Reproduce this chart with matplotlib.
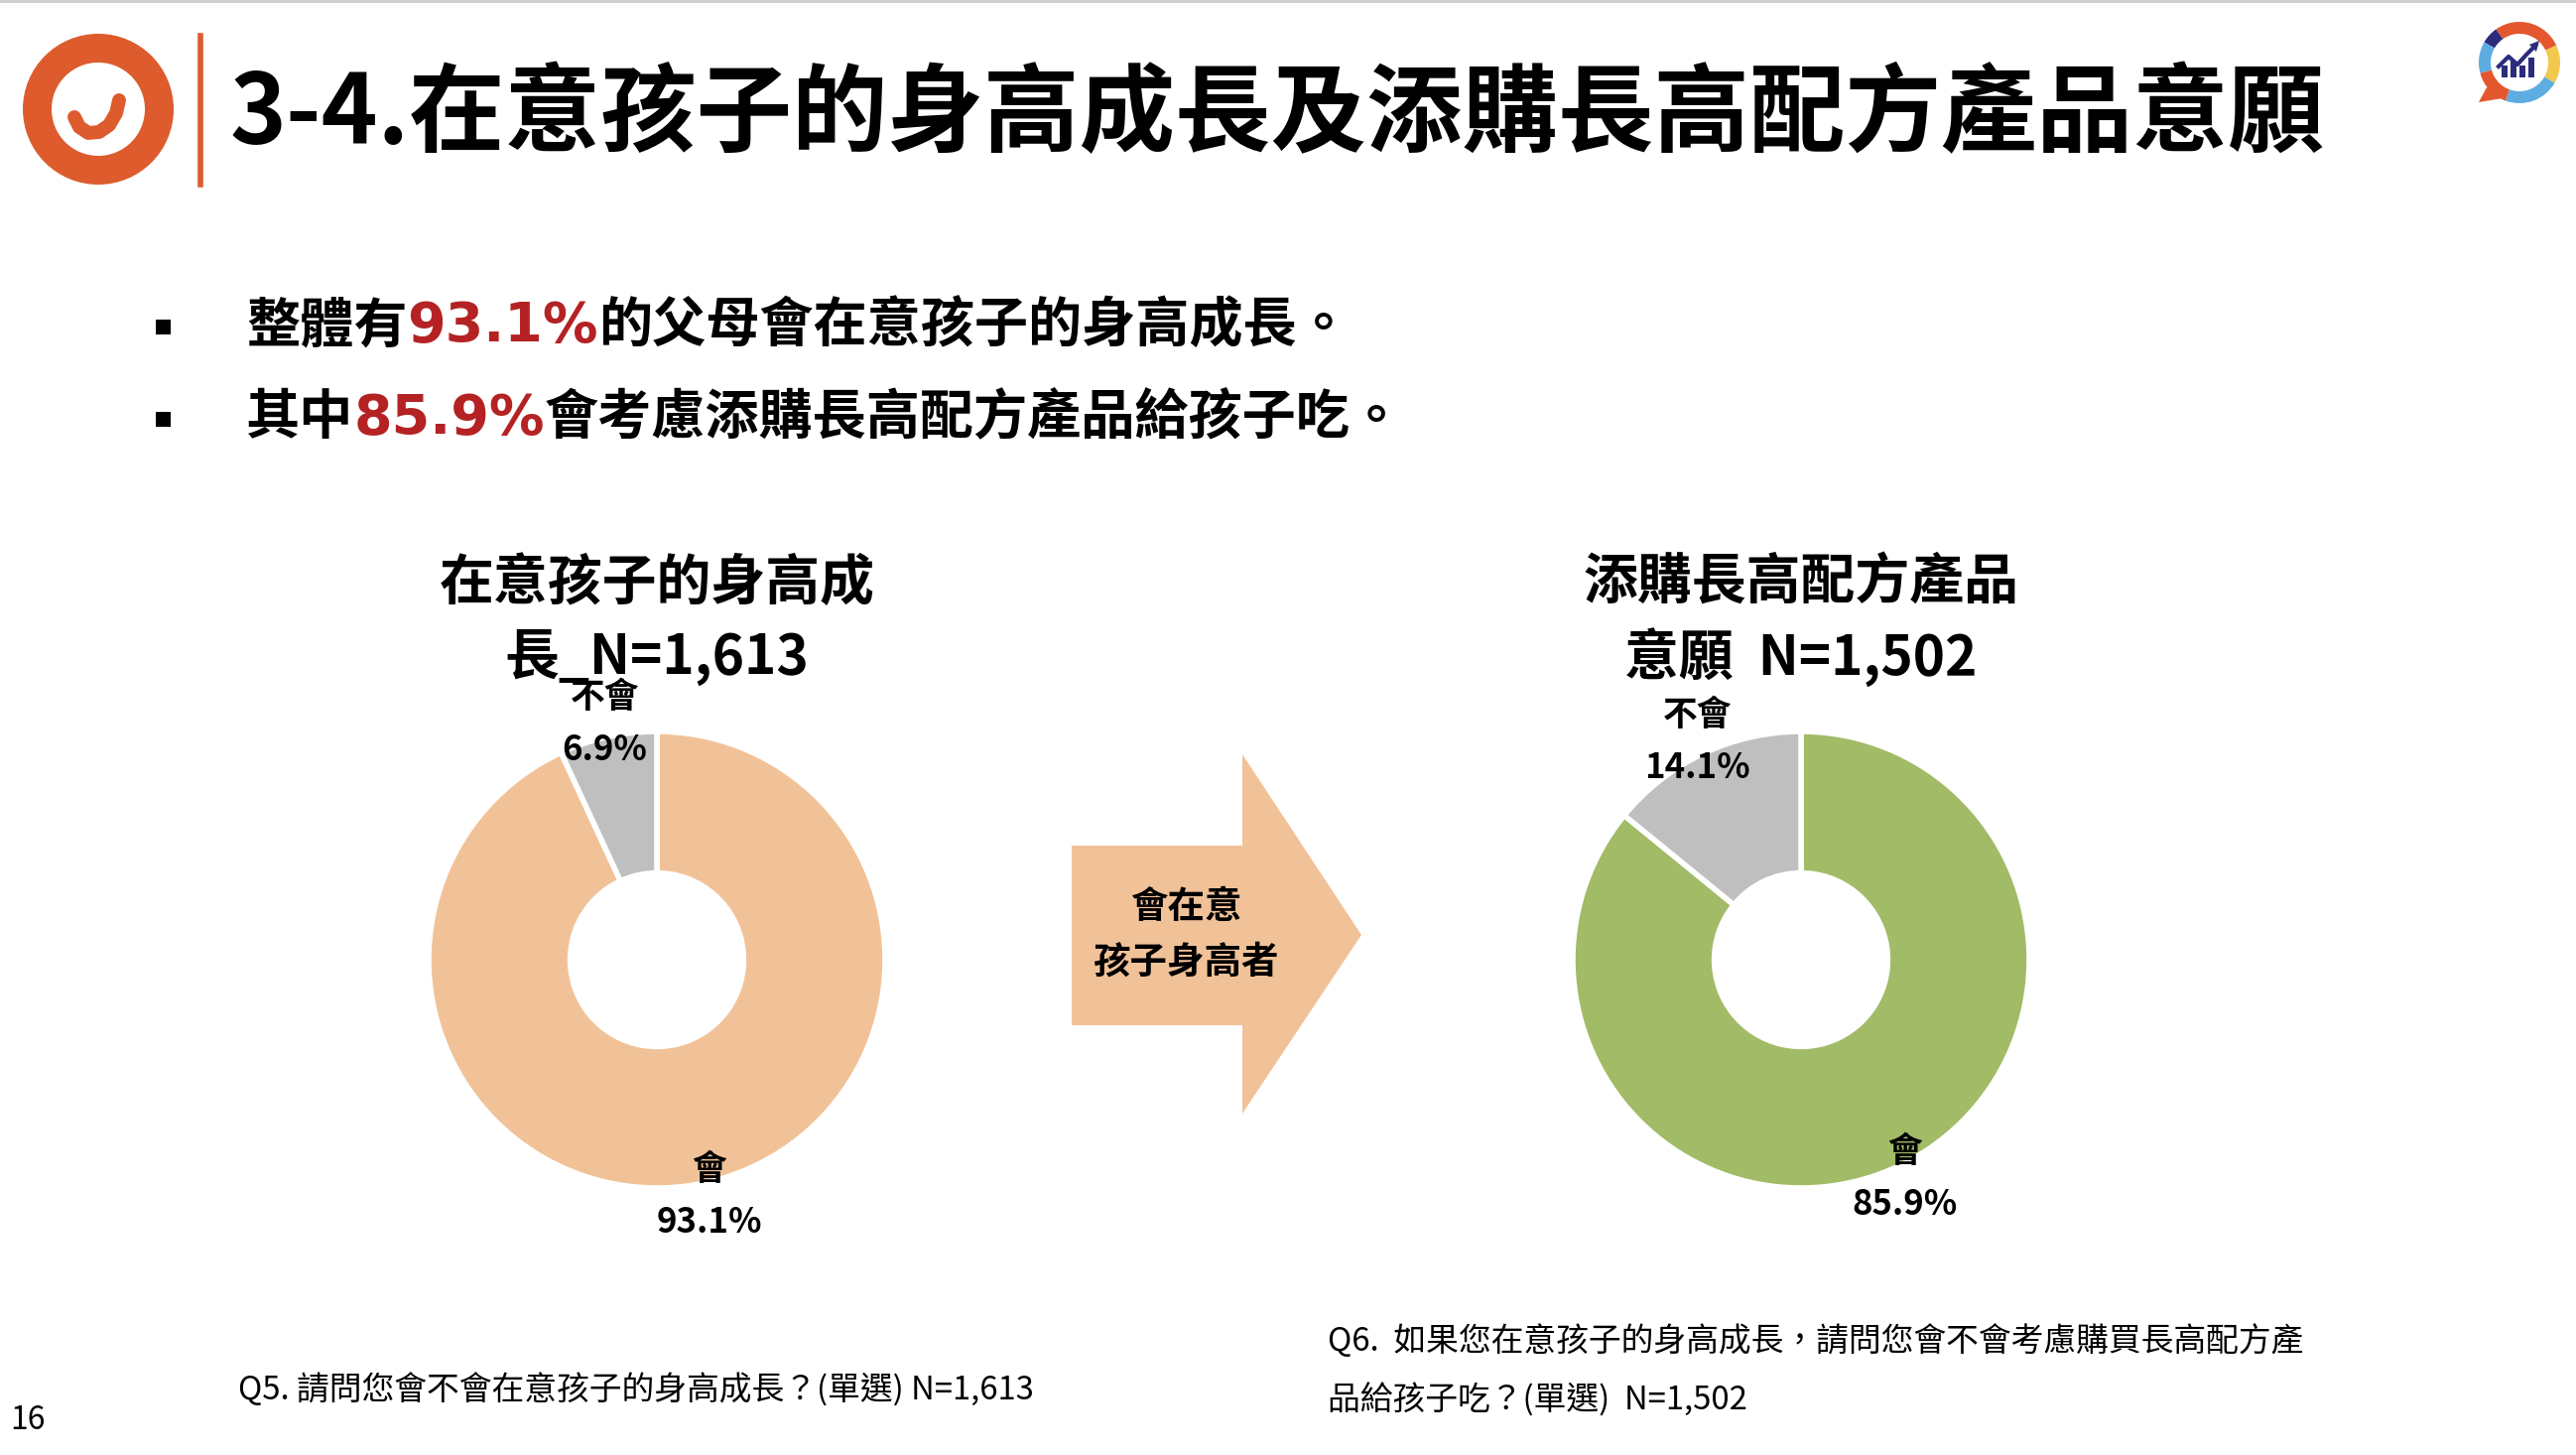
import numpy as np
import matplotlib
matplotlib.use('agg')
import matplotlib.pyplot as plt
from matplotlib.patches import Circle, Wedge, Polygon, Rectangle

plt.rcParams['font.family'] = ['Noto Sans CJK TC', 'DejaVu Sans']

W, H = 2596, 1466

# data
slide_title = '3-4.在意孩子的身高成長及添購長高配方產品意願'
bullet_lines = [('整體有', '93.1%', '的父母會在意孩子的身高成長。'),
                ('其中', '85.9%', '會考慮添購長高配方產品給孩子吃。')]
care_labels = ['會', '不會']
care_values = [93.1, 6.9]
care_title = ['在意孩子的身高成', '長_N=1,613']
buy_labels = ['會', '不會']
buy_values = [85.9, 14.1]
buy_title = ['添購長高配方產品', '意願  N=1,502']
arrow_text = ['會在意', '孩子身高者']
q5_note = 'Q5. 請問您會不會在意孩子的身高成長？(單選) N=1,613'
q6_note = ['Q6.  如果您在意孩子的身高成長，請問您會不會考慮購買長高配方產',
           '品給孩子吃？(單選)  N=1,502']
page_no = '16'

ORANGE = '#DD5B2C'
PEACH = '#F1C298'
GREEN = '#A1BB67'
GREY = '#BFBFBF'
RED = '#B52224'

fig = plt.figure(figsize=(W / 100, H / 100), dpi=100)
bg = fig.add_axes([0, 0, 1, 1])
bg.set_xlim(0, W)
bg.set_ylim(H, 0)
bg.axis('off')

# top thin rule
bg.add_patch(Rectangle((0, 0), W, 3, color='#CFCFCF', lw=0))

# left logo
bg.add_patch(Circle((99, 110), 76, color=ORANGE, lw=0))
bg.add_patch(Circle((99, 110), 47, color='white', lw=0))
sx = [75, 80, 89, 100, 110, 117, 120]
sy = [118, 128, 134, 133, 126, 114, 101]
bg.plot(sx, sy, color=ORANGE, lw=10, solid_capstyle='round')
bg.plot([202, 202], [36, 186], color=ORANGE, lw=4)

# title
bg.text(232, 117, slide_title, fontsize=69.5, weight='bold', va='center', ha='left')

# right logo (screen angles, y axis is inverted so negate)
lc = (2539, 63)
ring = [(125, 150, '#2B2C7C'), (25, 125, '#E4572E'), (-30, 25, '#F2C94C'),
        (-110, -30, '#5DADE2'), (-165, -110, '#E4572E'), (150, 195, '#5DADE2')]
for a1, a2, c in ring:
    bg.add_patch(Wedge(lc, 41, -a2, -a1, width=12, color=c, lw=0))
bg.add_patch(Polygon([(2506, 88), (2498, 103), (2522, 99)], color='#E4572E', lw=0))
for bx, bh in zip([2521, 2530, 2539, 2548], [12, 16, 12, 20]):
    bg.add_patch(Rectangle((bx, 78 - bh), 6, bh, color='#2B2C7C', lw=0))
bg.plot([2518, 2528, 2537, 2546, 2555], [67, 57, 65, 55, 46], color='#2B2C7C', lw=3)
bg.add_patch(Polygon([(2559, 41), (2549, 45), (2556, 52)], color='#2B2C7C', lw=0))

# bullets
for y, (a, num, b) in zip([329, 422], bullet_lines):
    bg.add_patch(Rectangle((157, y - 7), 15, 15, color='black', lw=0))
    t1 = bg.text(248, y, a, fontsize=39, weight='bold', va='center', ha='left')
    t2 = bg.annotate(num, xy=(1, 0.5), xycoords=t1, fontsize=40, weight='bold',
                     color=RED, va='center', ha='left', family='DejaVu Sans')
    bg.annotate(b, xy=(1, 0.5), xycoords=t2, fontsize=39, weight='bold',
                va='center', ha='left')


def draw_donut(cx, cy, values, labels, colors, title):
    R = 230
    ax = fig.add_axes([(cx - R) / W, (H - cy - R) / H, 2 * R / W, 2 * R / H])
    wedges, _ = ax.pie(values, colors=colors, startangle=90, counterclock=False,
                       radius=1, wedgeprops=dict(width=0.62, edgecolor='white', linewidth=4))
    for w, lab, v in zip(wedges, labels, values):
        ang = np.deg2rad((w.theta1 + w.theta2) / 2)
        ax.text(1.06 * np.cos(ang), 1.06 * np.sin(ang), f'{lab}\n{v:.1f}%',
                ha='center', va='center', fontsize=25, weight='bold', linespacing=1.65)
    ax.set_xlim(-1, 1)
    ax.set_ylim(-1, 1)
    ax.set_aspect('equal')
    bg.text(cx, 587, title[0], fontsize=39.5, weight='bold', ha='center', va='center')
    bg.text(cx, 662, title[1], fontsize=39.5, weight='bold', ha='center', va='center')


draw_donut(662, 967, care_values, care_labels, [PEACH, GREY], care_title)
draw_donut(1815, 967, buy_values, buy_labels, [GREEN, GREY], buy_title)

# arrow
bg.add_patch(Polygon([(1080, 852), (1252, 852), (1252, 760), (1372, 942),
                      (1252, 1122), (1252, 1033), (1080, 1033)], color=PEACH, lw=0))
bg.text(1195, 914, arrow_text[0], fontsize=27, weight='bold', ha='center', va='center')
bg.text(1195, 969, arrow_text[1], fontsize=27, weight='bold', ha='center', va='center')

# footnotes
bg.text(240, 1401, q5_note, fontsize=23.6, ha='left', va='center')
bg.text(1338, 1351, q6_note[0], fontsize=23.6, ha='left', va='center')
bg.text(1338, 1411, q6_note[1], fontsize=23.6, ha='left', va='center')
bg.text(10, 1431, page_no, fontsize=23, ha='left', va='center')

fig.savefig('out.png', dpi=100)
